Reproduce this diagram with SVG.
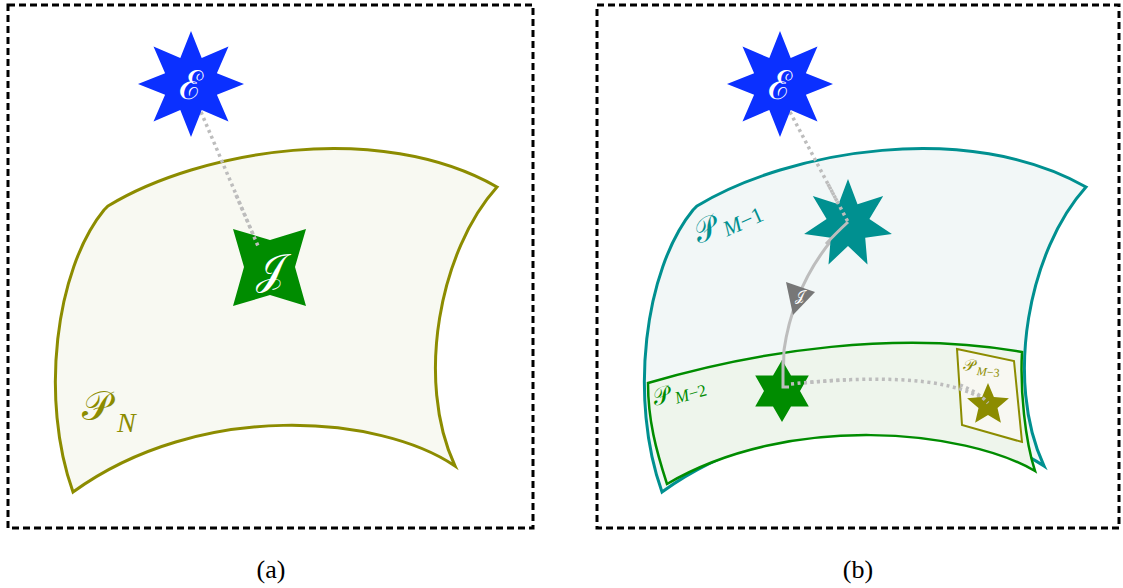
<svg xmlns="http://www.w3.org/2000/svg" width="1123" height="588" viewBox="0 0 1123 588">
<defs>
<style>
.frame{fill:none;stroke:#000;stroke-width:3;stroke-dasharray:7 4}
.dot{fill:none;stroke:#bdbdbd;stroke-width:3.5;stroke-dasharray:3 3.5}
.solid{fill:none;stroke:#bdbdbd;stroke-width:3}
.math{font-family:"DejaVu Serif","Liberation Serif",serif}
.it{font-family:"Liberation Serif",serif;font-style:italic}
.rm{font-family:"Liberation Serif",serif}
.cap{font-family:"Liberation Serif",serif;font-size:26px;text-anchor:middle}
.wl{fill:#fff;text-anchor:middle}
</style>
<path id="region" d="M104,210 L108,206 C200,150 380,120 497,187 C440,250 415,380 455,466 C380,415 200,400 73,492 C40,400 55,270 104,210 Z"/>
<polygon id="s8" points="0,-53 10.7,-25.9 37.5,-37.5 25.9,-10.7 53,0 25.9,10.7 37.5,37.5 10.7,25.9 0,53 -10.7,25.9 -37.5,37.5 -25.9,10.7 -53,0 -25.9,-10.7 -37.5,-37.5 -10.7,-25.9"/>
</defs>

<g id="frames">
<rect class="frame" x="8" y="5" width="525" height="523"/>
<rect class="frame" x="597" y="5" width="522" height="523"/>
</g>

<g id="PN">
<use href="#region" fill="#f8f9f2" stroke="#8c8c00" stroke-width="3"/>
<text class="math" x="82" y="420" font-size="40" fill="#8c8c00">𝒫</text>
<text class="it" x="117" y="432" font-size="28" fill="#8c8c00">N</text>
</g>

<g id="PM1">
<use href="#region" transform="translate(589,0)" fill="#f2f7f7" stroke="#009090" stroke-width="3"/>
<g transform="rotate(-24 700 240)" fill="#009090">
<text class="math" x="698" y="243" font-size="32">𝒫</text>
<text x="726" y="248" font-size="22"><tspan class="it">M</tspan><tspan class="rm">−1</tspan></text>
</g>
</g>

<g id="PM2">
<path d="M648,383 C760,350 900,330 1022,352 C1020,390 1025,440 1035,471 C965,430 790,412 667,484 C656,450 648,420 648,383 Z" fill="#eef5ec" stroke="#008c00" stroke-width="2.5"/>
<g transform="rotate(-16 657 400)" fill="#008c00">
<text class="math" x="654" y="405" font-size="24">𝒫</text>
<text x="675" y="409" font-size="17"><tspan class="it">M</tspan><tspan class="rm">−2</tspan></text>
</g>
</g>

<g id="PM3">
<polygon points="957,349 1014,361 1022,442 962,425" fill="#f8f8f2" stroke="#8c8c00" stroke-width="2"/>
<g transform="rotate(5 965 370)" fill="#8c8c00">
<text class="math" x="963" y="370" font-size="16">𝒫</text>
<text x="977" y="374" font-size="12"><tspan class="it">M</tspan><tspan class="rm">−3</tspan></text>
</g>
</g>

<g id="connectors">
<line class="dot" x1="201" y1="112" x2="258" y2="246"/>
<line class="dot" x1="790" y1="112" x2="848" y2="222"/>
<path class="solid" d="M848,222 Q795,275 784,350 L783,387 L789,387"/>
<path class="dot" d="M791,384 C850,378 950,372 988,403"/>
<polygon points="786,282 815,292 793,315" fill="#777"/>
<text class="math wl" x="800" y="301" font-size="14">𝒥</text>
</g>

<g id="E1">
<use href="#s8" x="191" y="84" fill="#0b30ff"/>
<text class="math wl" x="191" y="99" font-size="40">ℰ</text>
</g>

<g id="J1">
<polygon points="233,229 270,240 306,229 295,267 306,306 270,295 233,306 244,267" fill="#008c00"/>
<text class="math wl" x="270" y="284" font-size="42">𝒥</text>
</g>

<g id="E2">
<use href="#s8" x="780" y="84" fill="#0b30ff"/>
<text class="math wl" x="780" y="99" font-size="40">ℰ</text>
</g>

<g id="S7">
<polygon transform="translate(848,224)" points="0,-45 9.5,-19.8 35.2,-28.1 21.4,-4.9 43.9,10 17.2,13.7 19.5,40.5 0,22 -19.5,40.5 -17.2,13.7 -43.9,10 -21.4,-4.9 -35.2,-28.1 -9.5,-19.8" fill="#009090"/>
</g>

<g id="S6">
<polygon transform="translate(782,391)" points="0,-31 9,-15.6 26.8,-15.5 18,0 26.8,15.5 9,15.6 0,31 -9,15.6 -26.8,15.5 -18,0 -26.8,-15.5 -9,-15.6" fill="#008c00"/>
</g>

<g id="S5">
<polygon transform="translate(988,405)" points="0,-22 5.9,-8.1 20.9,-6.8 9.5,3.1 12.9,17.8 0,10 -12.9,17.8 -9.5,3.1 -20.9,-6.8 -5.9,-8.1" fill="#8c8c00"/>
</g>

<g id="overlay">
<line class="dot" x1="236" y1="195" x2="258" y2="246"/>
<line class="dot" x1="828" y1="184" x2="848" y2="222"/>
<path class="solid" d="M848,222 Q835,234 826,244"/>
<path class="solid" d="M783,360 L783,387 L789,387"/>
<path class="dot" d="M791,384 C820,381 840,380 850,380"/>
<path class="dot" d="M960,385 C972,390 982,396 988,403"/>
</g>

<g id="captions">
<text class="cap" x="271" y="578">(a)</text>
<text class="cap" x="858" y="578">(b)</text>
</g>
</svg>
